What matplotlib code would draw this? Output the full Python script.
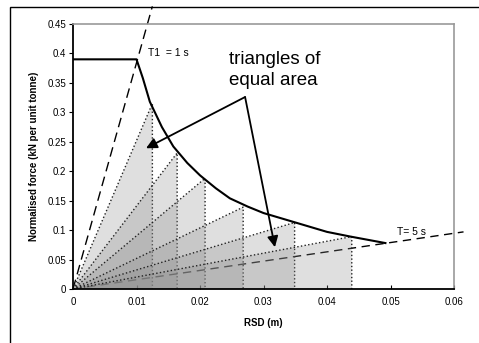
import matplotlib
matplotlib.use("Agg")
import matplotlib.pyplot as plt
from matplotlib.patches import Rectangle, Polygon

plt.rcParams['font.family'] = ['Liberation Sans', 'DejaVu Sans']

# capacity curve (RSD vs normalised force)
cap_sd = [0, 0.0100, 0.0110, 0.0121, 0.0140, 0.0158, 0.0180, 0.0200, 0.0225,
          0.0247, 0.0275, 0.0300, 0.0350, 0.0400, 0.0437, 0.0492]
cap_sa = [0.39, 0.39, 0.358, 0.318, 0.275, 0.242, 0.214, 0.193, 0.171,
          0.154, 0.140, 0.129, 0.113, 0.097, 0.089, 0.078]

# equal-area triangle apexes
tri_sd = [0.0125, 0.0164, 0.0208, 0.0268, 0.0349, 0.0439]
tri_sa = [0.315, 0.231, 0.188, 0.139, 0.113, 0.089]

# period lines
t1_sd = [0, 0.0125]
t1_sa = [0, 0.48]
t5_sd = [0, 0.0615]
t5_sa = [0, 0.097]

xticks = [0, 0.01, 0.02, 0.03, 0.04, 0.05, 0.06]
yticks = [0, 0.05, 0.1, 0.15, 0.2, 0.25, 0.3, 0.35, 0.4, 0.45]

fig = plt.figure(figsize=(4.79, 3.43), dpi=100)
# outer frame, cut off at right and bottom
fig.patches.append(Rectangle((10/479, -0.1), 1.2, 1 - 7/343 + 0.1,
                             transform=fig.transFigure, fill=False,
                             edgecolor='black', linewidth=1.0))

ax = fig.add_axes([73/479, 54/343, 381/479, 265/343])

ax.plot(t5_sd, t5_sa, color='black', linestyle=(0, (6, 4)), linewidth=1.0,
        clip_on=False, zorder=1)
ax.plot(t1_sd, t1_sa, color='black', linestyle=(0, (7, 4)), linewidth=1.0,
        clip_on=False, zorder=1)

for x, y in zip(tri_sd, tri_sa):
    ax.add_patch(Polygon([(0, 0), (x, y), (x, 0)], closed=True,
                         facecolor='#8c8c8c', alpha=0.27, edgecolor='none', zorder=2))
    ax.plot([0, x, x], [0, y, 0], color='#222222', linestyle=':', linewidth=1.0, zorder=2)

ax.plot(cap_sd, cap_sa, color='black', linewidth=1.5, zorder=4)

ax.annotate('', xy=(0.0115, 0.239), xytext=(0.0271, 0.326),
            arrowprops=dict(arrowstyle='-|>', color='black', lw=1.3,
                            mutation_scale=16, shrinkA=0, shrinkB=0), zorder=5)
ax.annotate('', xy=(0.0318, 0.071), xytext=(0.0271, 0.326),
            arrowprops=dict(arrowstyle='-|>', color='black', lw=1.3,
                            mutation_scale=16, shrinkA=0, shrinkB=0), zorder=5)

ax.text(0.0246, 0.372, 'triangles of\nequal area', fontsize=13.5, ha='left', va='center',
        linespacing=1.3)
ax.text(0.0118, 0.40, 'T1  = 1 s', fontsize=7.5, ha='left', va='center')
ax.text(0.0510, 0.097, 'T= 5 s', fontsize=7.5, ha='left', va='center')

ax.set_xlim(0, 0.06)
ax.set_ylim(0, 0.45)
ax.set_xticks(xticks)
ax.set_yticks(yticks)
ax.set_xticklabels([f'{v:g}' for v in xticks])
ax.set_yticklabels([f'{v:g}' for v in yticks])
ax.tick_params(axis='x', direction='in', length=3, labelsize=7, pad=6)
ax.tick_params(axis='y', direction='out', length=3, labelsize=7, pad=2)

for s in ['top', 'right']:
    ax.spines[s].set_color('#999999')
    ax.spines[s].set_linewidth(1.2)
for s in ['left', 'bottom']:
    ax.spines[s].set_color('black')
    ax.spines[s].set_linewidth(1.3)

ax.set_xlabel('RSD (m)', fontsize=7, fontweight='bold', labelpad=8)
ax.set_ylabel('Normalised force (kN per unit tonne)', fontsize=7, fontweight='bold', labelpad=6)

fig.savefig('out.png', dpi=100)
